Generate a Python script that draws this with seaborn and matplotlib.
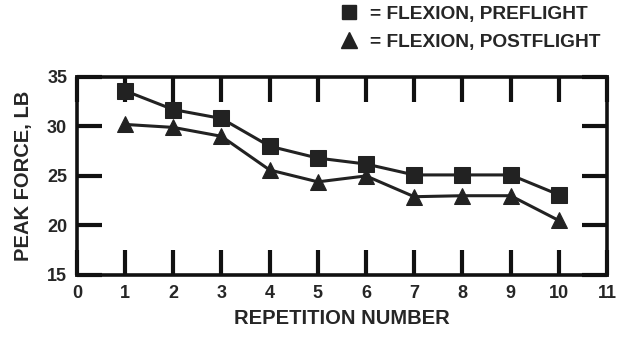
import matplotlib
matplotlib.use("Agg")
import matplotlib.pyplot as plt
import seaborn as sns
import pandas as pd
from matplotlib.lines import Line2D

# Donnees
repetition = [1, 2, 3, 4, 5, 6, 7, 8, 9, 10]
preflight = [33.6, 31.7, 30.8, 28.0, 26.8, 26.2, 25.1, 25.1, 25.1, 23.1]
postflight = [30.2, 29.9, 29.0, 25.6, 24.4, 25.0, 22.9, 23.0, 23.0, 20.5]
labels = ["= FLEXION, PREFLIGHT", "= FLEXION, POSTFLIGHT"]

df = pd.DataFrame({
    "rep": repetition * 2,
    "force": preflight + postflight,
    "serie": [labels[0]] * len(repetition) + [labels[1]] * len(repetition),
})

sns.set_style("white")
plt.rcParams["font.family"] = ["Liberation Sans", "DejaVu Sans"]
plt.rcParams["font.weight"] = "bold"

fig = plt.figure(figsize=(6.2, 3.48), dpi=100)
ax = fig.add_axes([0.124, 0.21, 0.855, 0.569])

sns.lineplot(data=df, x="rep", y="force", hue="serie", style="serie",
             palette=["#222222", "#222222"], markers=["s", "^"], dashes=False,
             markersize=11, linewidth=2.2, markeredgecolor="#222222",
             legend=False, ax=ax)

ax.set_xlim(0, 11)
ax.set_ylim(15, 35)
ax.set_xticks(range(0, 12))
ax.set_yticks([15, 20, 25, 30, 35])
ax.tick_params(direction="in", length=18, width=3, color="#111111",
               bottom=True, left=True, top=True, right=True,
               labelsize=13, pad=7)
for s in ax.spines.values():
    s.set_linewidth(2.6)
    s.set_color("#111111")

ax.set_xlabel("REPETITION NUMBER", fontsize=14.5, fontweight="bold", labelpad=5)
ax.set_ylabel("PEAK FORCE, LB", fontsize=14.5, fontweight="bold", labelpad=10)

# Legende en haut a droite
handles = [
    Line2D([], [], linestyle="none", marker="s", markersize=10, color="#222222"),
    Line2D([], [], linestyle="none", marker="^", markersize=11, color="#222222"),
]
fig.legend(handles, labels, loc="upper left", bbox_to_anchor=(0.516, 1.033),
           frameon=False, handlelength=1.2, handletextpad=0.5, labelspacing=0.55,
           prop={"size": 13.8, "weight": "bold"})

fig.savefig("out.png", dpi=100)
